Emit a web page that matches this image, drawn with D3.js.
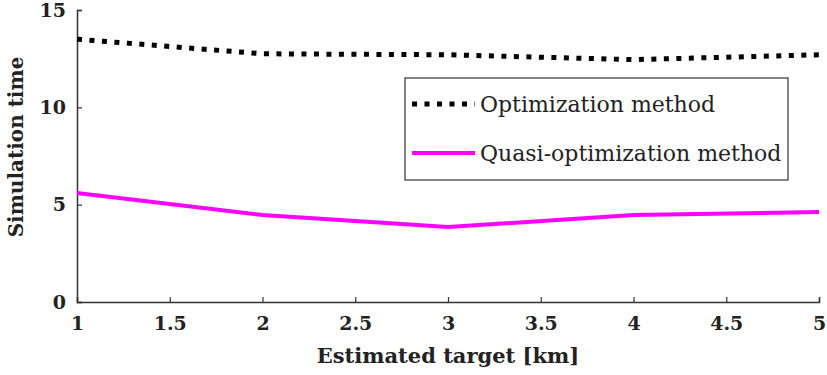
<!DOCTYPE html>
<html><head><meta charset="utf-8">
<script src="https://cdn.jsdelivr.net/npm/d3@7"></script>
<style>body{margin:0;background:#fff}</style>
</head><body>
<svg id="c" width="827" height="375"></svg>
<script>
const xValues = [1, 2, 3, 4, 5];
const optimization = [13.5, 12.75, 12.7, 12.45, 12.7];
const quasiOptimization = [5.6, 4.47, 3.85, 4.47, 4.62];
const xTicks = [1, 1.5, 2, 2.5, 3, 3.5, 4, 4.5, 5];
const yTicks = [0, 5, 10, 15];
const seriesNames = ["Optimization method", "Quasi-optimization method"];

const svg = d3.select("#c");
const x = d3.scaleLinear().domain([1, 5]).range([77, 819]);
const y = d3.scaleLinear().domain([0, 15]).range([302, 10]);
const font = "'DejaVu Serif', serif";

const xa = svg.append("g").attr("transform", "translate(0,302)")
  .call(d3.axisBottom(x).tickValues(xTicks).tickSize(-5).tickPadding(12).tickFormat(d3.format("")));
const ya = svg.append("g").attr("transform", "translate(77,0)")
  .call(d3.axisLeft(y).tickValues(yTicks).tickSize(-5).tickPadding(11));
[xa, ya].forEach(a => {
  a.select(".domain").attr("stroke", "#333").attr("stroke-width", 1.5);
  a.selectAll(".tick line").attr("stroke", "#333").attr("stroke-width", 1.2);
  a.selectAll("text").attr("font-family", null).style("font-family", font).attr("font-weight", "bold")
    .attr("font-size", 19).attr("fill", "#222");
});
xa.selectAll("text").attr("dy", "0.85em");

const line = d3.line().x((d, i) => x(xValues[i])).y(d => y(d));
svg.append("path").datum(optimization).attr("d", line)
  .attr("fill", "none").attr("stroke", "#000").attr("stroke-width", 5)
  .attr("stroke-dasharray", "5,7.5");
svg.append("path").datum(quasiOptimization).attr("d", line)
  .attr("fill", "none").attr("stroke", "#ff00ff").attr("stroke-width", 4);

svg.append("text").attr("x", 448).attr("y", 363).attr("text-anchor", "middle")
  .style("font-family", font).attr("font-weight", "bold").attr("font-size", 21).attr("fill", "#222")
  .text("Estimated target [km]");
svg.append("text").attr("transform", "translate(23,147) rotate(-90)").attr("text-anchor", "middle")
  .style("font-family", font).attr("font-weight", "bold").attr("font-size", 20).attr("fill", "#222")
  .text("Simulation time");

const lg = svg.append("g");
lg.append("rect").attr("x", 405).attr("y", 78).attr("width", 383).attr("height", 102)
  .attr("fill", "#fff").attr("stroke", "#333").attr("stroke-width", 1.2);
lg.append("line").attr("x1", 412).attr("x2", 475).attr("y1", 104).attr("y2", 104)
  .attr("stroke", "#000").attr("stroke-width", 5).attr("stroke-dasharray", "5,7.5");
lg.append("line").attr("x1", 412).attr("x2", 475).attr("y1", 153).attr("y2", 153)
  .attr("stroke", "#ff00ff").attr("stroke-width", 4);
lg.selectAll("text.l").data(seriesNames).enter().append("text")
  .attr("x", 480).attr("y", (d, i) => 104 + i * 49).attr("dy", "0.35em")
  .style("font-family", font).attr("font-size", 22).attr("fill", "#222").text(d => d);
</script>
</body></html>
